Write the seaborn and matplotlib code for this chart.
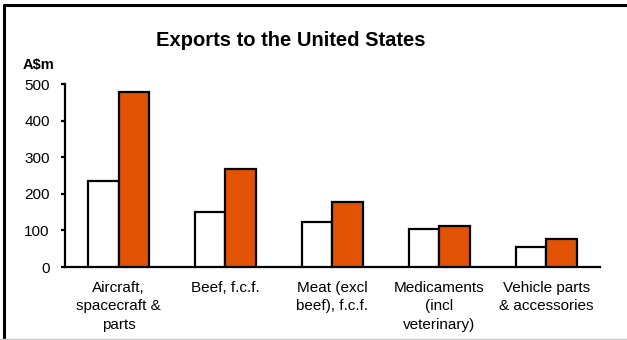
import matplotlib as mpl
mpl.use("Agg")
import matplotlib.pyplot as plt
import numpy as np
import pandas as pd
import seaborn as sns

categories = ["Aircraft,\nspacecraft &\nparts", "Beef, f.c.f.", "Meat (excl\nbeef), f.c.f.",
              "Medicaments\n(incl\nveterinary)", "Vehicle parts\n& accessories"]
earlier = [235, 150, 123, 103, 56]
later = [479, 267, 179, 112, 76]
series = ["earlier", "later"]
yticks = [0, 100, 200, 300, 400, 500]

df = pd.DataFrame({
    "category": categories * 2,
    "value": earlier + later,
    "period": [series[0]] * len(categories) + [series[1]] * len(categories),
})

sns.set_style("white")
plt.rcParams["font.family"] = ["Liberation Sans", "DejaVu Sans"]
plt.rcParams["text.color"] = "black"
plt.rcParams["xtick.color"] = "black"
plt.rcParams["ytick.color"] = "black"

fig = plt.figure(figsize=(6.27, 3.4), dpi=100)
ax = fig.add_axes([0.1037, 0.2147, 0.853, 0.538])

sns.barplot(data=df, x="category", y="value", hue="period", order=categories,
            hue_order=series, palette=["white", "#E25205"], saturation=1, width=0.57,
            edgecolor="black", linewidth=1.6, legend=False, ax=ax, zorder=3)

ax.set_xlim(-0.5, len(categories) - 0.5)
ax.set_ylim(0, 500)
ax.set_yticks(yticks)
ax.set_yticklabels([str(t) for t in yticks], fontsize=11)
ax.set_xticks(range(len(categories)))
ax.set_xticklabels(categories, fontsize=11, linespacing=1.4)
ax.set_xticks(np.arange(-0.5, len(categories)), minor=True)
ax.tick_params(axis="x", which="major", length=0, pad=10)
ax.tick_params(axis="x", which="minor", length=4, width=1.6, direction="out", color="black")
ax.tick_params(axis="y", length=3, width=1.6, direction="out", color="black", pad=8, left=True)
ax.set_xlabel("")
ax.set_ylabel("")
for side in ["top", "right"]:
    ax.spines[side].set_visible(False)
for side in ["left", "bottom"]:
    ax.spines[side].set_color("black")
    ax.spines[side].set_linewidth(1.6)

fig.text(0.464, 0.882, "Exports to the United States", ha="center", va="center",
         fontsize=14.5, fontweight="bold")
fig.text(0.036, 0.81, "A$m", ha="left", va="center", fontsize=10.5, fontweight="bold")

# outer frame: black on top and left, grey at the bottom
fig.add_artist(plt.Line2D([0.006, 1.0], [0.985, 0.985], color="black", lw=2.2, transform=fig.transFigure))
fig.add_artist(plt.Line2D([0.006, 0.006], [0.0, 0.985], color="black", lw=2.2, transform=fig.transFigure))
fig.add_artist(plt.Line2D([0.0, 1.0], [0.004, 0.004], color="#c8c8c8", lw=1.0, transform=fig.transFigure))

plt.savefig("out.png", dpi=100)
